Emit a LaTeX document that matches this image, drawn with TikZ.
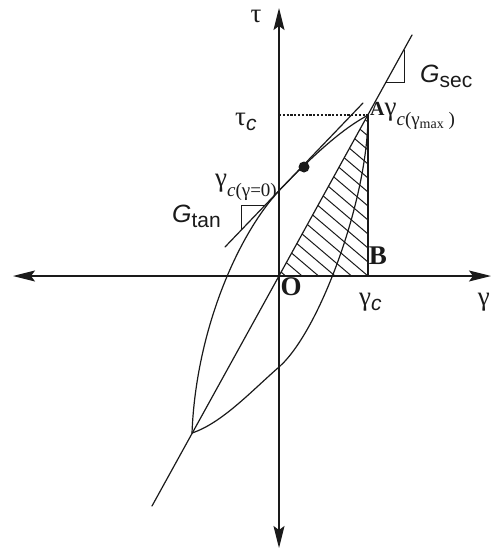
\documentclass[tikz,border=0pt]{standalone}
\usepackage{fontspec}
\setmainfont{Liberation Serif}
\newfontfamily\sansfont{Liberation Sans}
\usetikzlibrary{arrows.meta}
\definecolor{ink}{HTML}{1A1A1A}

\newcommand{\sfsub}[1]{\raisebox{-5pt}{\fontsize{21}{21}\selectfont\sansfont #1}}
\newcommand{\rmsub}[1]{\raisebox{-10pt}{\fontsize{19}{19}\selectfont #1}}
\newcommand{\tinysub}[1]{\raisebox{-3pt}{\fontsize{14}{14}\selectfont #1}}

\begin{document}
\begin{tikzpicture}[
  x=1pt, y=-1pt, line cap=round,
  axis/.style={draw=ink, line width=1.3pt,
    {Stealth[length=22pt,width=11pt,inset=4pt]}-{Stealth[length=22pt,width=11pt,inset=4pt]}},
  curve/.style={draw=ink, line width=1.2pt},
  hatch/.style={draw=ink, line width=1pt},
  slope/.style={draw=ink, line width=1pt, line cap=butt},
  lbl/.style={inner sep=0pt, text=ink, font=\fontsize{20}{20}\selectfont},
  greek/.style={lbl, font=\fontsize{27}{27}\selectfont},
  letter/.style={lbl, font=\fontsize{27}{27}\selectfont\bfseries}
]
\useasboundingbox (0,0) rectangle (491,549);

% key points of the loop
\coordinate (O) at (279,276);
\coordinate (A) at (368,115);
\coordinate (B) at (368,276);
\coordinate (T) at (192,433);
\coordinate (M) at (279,367);
\coordinate (P) at (279,190.7);
\coordinate (Tc) at (279,115);

% axes
\coordinate (xl) at (13,276);
\coordinate (xr) at (491,276);
\coordinate (yb) at (279,548);
\coordinate (yt) at (279,8);
\draw[axis] (xl) -- (xr);
\draw[axis] (yb) -- (yt);

% hatched triangle OAB
\begin{scope}
  \clip (O) -- (A) -- (B) -- cycle;
  \foreach \k in {-7,...,11} {\draw[hatch] (228,{143-14*\k}) -- (388,{279-14*\k});}
\end{scope}
\draw[curve, line width=1.5pt] (A) -- (B);
\draw[ink, line width=1.1pt, dash pattern=on 2.2pt off 1.6pt, line cap=butt] (Tc) -- (A);

% secant line and G_sec triangle
\coordinate (s1) at (152,506);
\coordinate (s2) at (412,35);
\draw[curve] (s1) -- (s2);
\coordinate (gs1) at (386.2,82);
\coordinate (gs2) at (404,82);
\coordinate (gs3) at (404,49.9);
\draw[slope] (gs1) -- (gs2) -- (gs3);

% tangent line and G_tan triangle
\coordinate (t1) at (225,247);
\coordinate (t2) at (363,103);
\draw[curve] (t1) -- (t2);
\coordinate (gt1) at (265.2,205);
\coordinate (gt2) at (241,205);
\coordinate (gt3) at (241,230.3);
\draw[slope] (gt1) -- (gt2) -- (gt3);
\fill[ink] (304,167) circle (5.5);

% hysteresis loop
\draw[curve] (T) .. controls (196,330) and (238,235) .. (P)
  .. controls (334,133.3) and (356,122.2) .. (A);
\draw[curve] (T) .. controls (222,423) and (251,391.5) .. (M)
  .. controls (319,332) and (368,200) .. (A);

% labels
\node[greek] (tau) at (256,16) {τ};
\node[greek, anchor=base west] (tauc) at (235,125) {τ\sfsub{\itshape c}};
\node[lbl, anchor=base west] (gsec) at (420,82)
  {\fontsize{25}{25}\selectfont\sansfont\itshape G\sfsub{\upshape sec}};
\node[lbl, anchor=base west] (gtan) at (172,222)
  {\fontsize{25}{25}\selectfont\sansfont\itshape G\sfsub{\upshape tan}};
\node[lbl, anchor=base west] (amax) at (370,115)
  {\textbf{A}{\fontsize{27}{27}\selectfont γ}\rmsub{\textit{c}(γ\tinysub{max}\ )}};
\node[lbl, anchor=base east] (gzero) at (277,186)
  {{\fontsize{27}{27}\selectfont γ}\rmsub{\textit{c}(γ=0)}};
\node[letter] (lb) at (378,256) {B};
\node[letter] (lo) at (291,287) {O};
\node[greek, anchor=base west] (gc) at (359,305) {γ\sfsub{\itshape c}};
\node[greek, anchor=base east] (gam) at (490,305) {γ};
\end{tikzpicture}
\end{document}
